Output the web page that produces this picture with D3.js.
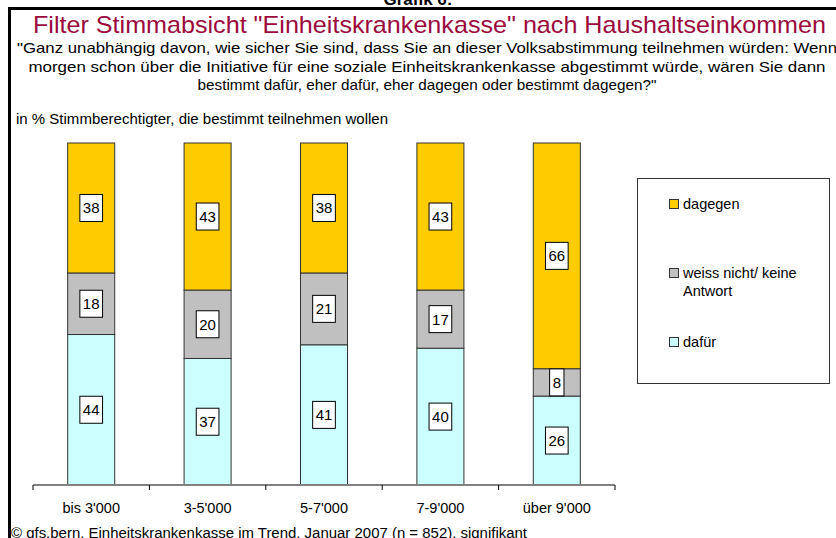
<!DOCTYPE html>
<html>
<head>
<meta charset="utf-8">
<script src="https://cdn.jsdelivr.net/npm/d3@7/dist/d3.min.js"></script>
<style>
  body { margin: 0; background: #fff; }
  svg { display: block; font-family: "Liberation Sans", Arial, sans-serif; }
</style>
</head>
<body>
<div id="screen"></div>
<script>
var categories = ["bis 3'000", "3-5'000", "5-7'000", "7-9'000", "über 9'000"];
var dafuer = [44, 37, 41, 40, 26];
var weissNicht = [18, 20, 21, 17, 8];
var dagegen = [38, 43, 38, 43, 66];

var seriesKeys = ["dafuer", "weiss", "dagegen"];
var seriesNames = { dagegen: "dagegen", weiss: "weiss nicht/ keine|Antwort", dafuer: "dafür" };
var colours = { dagegen: "#ffcc00", weiss: "#c0c0c0", dafuer: "#ccffff" };

var questionLines = [
    "\"Ganz unabhängig davon, wie sicher Sie sind, dass Sie an dieser Volksabstimmung teilnehmen würden: Wenn",
    "morgen schon über die Initiative für eine soziale Einheitskrankenkasse abgestimmt würde, wären Sie dann",
    "bestimmt dafür, eher dafür, eher dagegen oder bestimmt dagegen?\""
];

var width = 836, height = 538;

var svg = d3.select("#screen").append("svg")
    .attr("width", width).attr("height", height);

// header (cut at the top edge, as in the original)
svg.append("text")
    .attr("x", 418).attr("y", 5)
    .attr("text-anchor", "middle")
    .style("font-weight", "bold").style("font-size", "17px")
    .text("Grafik 6:");

svg.append("path")
    .attr("d", "M9.5,538V8.5H836")
    .attr("fill", "none").attr("stroke", "#000").attr("stroke-width", 3);

svg.append("text")
    .attr("x", 429.5).attr("y", 33)
    .attr("text-anchor", "middle")
    .attr("fill", "#9b0a3c")
    .style("font-size", "24px")
    .attr("textLength", 793).attr("lengthAdjust", "spacingAndGlyphs")
    .text("Filter Stimmabsicht \"Einheitskrankenkasse\" nach Haushaltseinkommen");

var lineWidths = [820, 797, 459];
questionLines.forEach(function(t, i) {
    svg.append("text")
        .attr("x", 427).attr("y", 53 + i * 18.7)
        .attr("text-anchor", "middle")
        .style("font-size", "15px")
        .attr("textLength", lineWidths[i]).attr("lengthAdjust", "spacingAndGlyphs")
        .text(t);
});

svg.append("text")
    .attr("x", 16).attr("y", 124)
    .style("font-size", "14px")
    .attr("textLength", 372).attr("lengthAdjust", "spacingAndGlyphs")
    .text("in % Stimmberechtigter, die bestimmt teilnehmen wollen");

// chart
var x = d3.scaleBand().domain(categories).range([33, 615])
    .paddingInner(0.596).paddingOuter(0.298);
var y = d3.scaleLinear().domain([0, 100]).range([485, 143]);

var rows = categories.map(function(c, i) {
    return { cat: c, dafuer: dafuer[i], weiss: weissNicht[i], dagegen: dagegen[i] };
});
var stack = d3.stack().keys(seriesKeys)(rows);

var layers = svg.append("g").selectAll("g").data(stack).enter().append("g")
    .attr("fill", function(d) { return colours[d.key]; });

layers.selectAll("rect").data(function(d) { return d; }).enter().append("rect")
    .attr("x", function(d) { return x(d.data.cat); })
    .attr("width", x.bandwidth())
    .attr("y", function(d) { return y(d[1]); })
    .attr("height", function(d) { return y(d[0]) - y(d[1]); })
    .attr("stroke", "#333").attr("stroke-width", 1);

// axis
var axisG = svg.append("g");
axisG.append("line")
    .attr("x1", x.range()[0]).attr("x2", x.range()[1])
    .attr("y1", y(0)).attr("y2", y(0))
    .attr("stroke", "#808080").attr("stroke-width", 2);
d3.range(categories.length + 1).forEach(function(i) {
    var tx = x.range()[0] + i * x.step();
    axisG.append("line")
        .attr("x1", tx).attr("x2", tx).attr("y1", y(0)).attr("y2", y(0) + 5)
        .attr("stroke", "#000").attr("stroke-width", 1);
});
axisG.selectAll("text.cat").data(categories).enter().append("text")
    .attr("class", "cat")
    .attr("x", function(d) { return x(d) + x.bandwidth() / 2; })
    .attr("y", 513)
    .attr("text-anchor", "middle")
    .style("font-size", "14.5px")
    .text(function(d) { return d; });

// value labels
var labels = svg.append("g");
stack.forEach(function(layer) {
    layer.forEach(function(d) {
        var v = d[1] - d[0];
        var cx = x(d.data.cat) + x.bandwidth() / 2;
        var cy = (y(d[0]) + y(d[1])) / 2;
        var g = labels.append("g");
        var t = g.append("text")
            .attr("x", cx).attr("y", cy + 5.5)
            .attr("text-anchor", "middle")
            .style("font-size", "15px")
            .text(v);
        var w = t.node().getComputedTextLength() + 6;
        g.insert("rect", "text")
            .attr("x", cx - w / 2).attr("y", cy - 13.5)
            .attr("width", w).attr("height", 27)
            .attr("fill", "#fff").attr("stroke", "#000").attr("stroke-width", 1);
    });
});

// legend
svg.append("rect")
    .attr("x", 637.5).attr("y", 178.5).attr("width", 192).attr("height", 205)
    .attr("fill", "#fff").attr("stroke", "#333").attr("stroke-width", 1);

var legendKeys = ["dagegen", "weiss", "dafuer"];
var legendY = [209, 278, 347];
legendKeys.forEach(function(k, i) {
    svg.append("rect")
        .attr("x", 669.5).attr("y", legendY[i] - 9.5).attr("width", 9).attr("height", 9)
        .attr("fill", colours[k]).attr("stroke", "#333").attr("stroke-width", 1);
    seriesNames[k].split("|").forEach(function(part, j) {
        svg.append("text")
            .attr("x", 683).attr("y", legendY[i] + j * 18)
            .style("font-size", "14.5px")
            .text(part);
    });
});

// footer (cut at the bottom edge, as in the original)
svg.append("text")
    .attr("x", 11).attr("y", 538)
    .style("font-size", "14px")
    .attr("textLength", 516).attr("lengthAdjust", "spacingAndGlyphs")
    .text("© gfs.bern, Einheitskrankenkasse im Trend, Januar 2007 (n = 852), signifikant");
</script>
</body>
</html>
